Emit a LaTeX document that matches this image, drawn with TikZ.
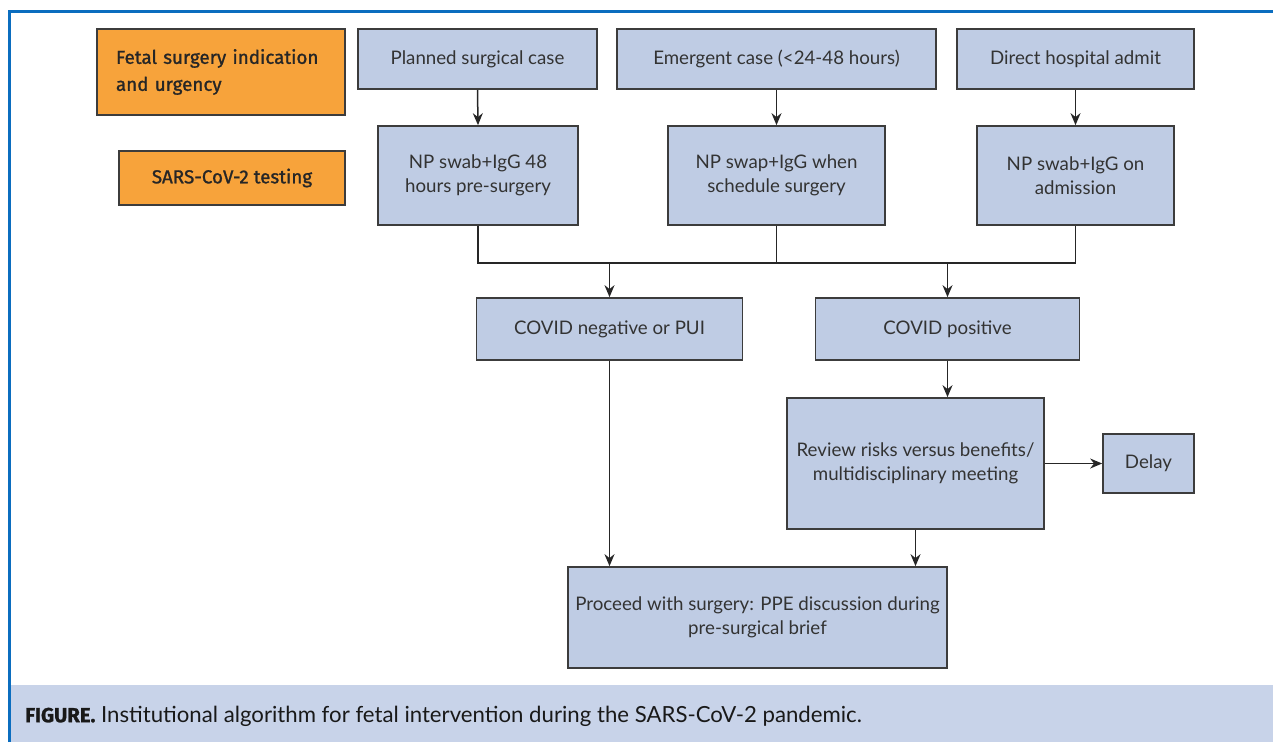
\documentclass[tikz,border=0pt]{standalone}
\usepackage{fontspec}
\setmainfont{Lato}
\newfontfamily\dinfont{Fira Sans}[FakeBold=1.2]
\usetikzlibrary{arrows.meta}
\definecolor{boxfill}{HTML}{BFCCE4}
\definecolor{boxline}{HTML}{3C3C3C}
\definecolor{orangefill}{HTML}{F7A33B}
\definecolor{frameblue}{HTML}{0B6DBF}
\definecolor{capfill}{HTML}{C8D3E9}
\definecolor{txt}{HTML}{333333}
\tikzset{
  flowbox/.style={draw=boxline, line width=1.7pt, fill=boxfill, inner sep=0pt, align=center,
    text=txt, font=\fontsize{18.7}{24}\selectfont},
  orangebox/.style={draw=boxline, line width=1.5pt, fill=orangefill, inner sep=0pt,
    text=black!85, font=\dinfont\fontsize{18.8}{27}\selectfont},
  conn/.style={line width=1.5pt, draw=black!85},
  arr/.style={conn, -{Stealth[length=12pt,width=10pt]}},
}
\begin{document}
\begin{tikzpicture}[x=1pt,y=-1pt]
\useasboundingbox (0,0) rectangle (1273,742);
% caption bar and frame
\fill[capfill] (10,685) rectangle (1273,742);
\draw[frameblue, line width=3.8pt] (9.5,742) -- (9.5,11.5) -- (1273,11.5);
\node[anchor=west, inner sep=0pt, text=black!90] (cap) at (25,716)
  {{\dinfont\bfseries\fontsize{20.3}{24}\selectfont FIGURE.}\fontsize{22.2}{26}\selectfont{} Institutional algorithm for fetal intervention during the SARS-CoV-2 pandemic.};
% left labels
\node[orangebox, minimum width=248pt, minimum height=86pt, align=left, text width=210pt] (o1) at (221,72)
  {Fetal surgery indication\\and urgency};
\node[orangebox, minimum width=226pt, minimum height=54pt, align=center] (o2) at (232,178)
  {SARS-CoV-2 testing};
% top row
\node[flowbox, minimum width=239pt, minimum height=60pt] (planned) at (477.5,59) {Planned surgical case};
\node[flowbox, minimum width=319pt, minimum height=60pt] (emergent) at (776.5,59) {Emergent case (<24-48 hours)};
\node[flowbox, minimum width=237pt, minimum height=60pt] (direct) at (1075.5,59) {Direct hospital admit};
% testing row
\node[flowbox, minimum width=200pt, minimum height=99pt] (np1) at (478,175.5) {NP swab+IgG 48\\hours pre-surgery};
\node[flowbox, minimum width=217pt, minimum height=99pt] (np2) at (776.5,175.5) {NP swap+IgG when\\schedule surgery};
\node[flowbox, minimum width=197pt, minimum height=99pt] (np3) at (1075.5,175.5) {NP swab+IgG on\\admission};
% results
\node[flowbox, minimum width=266pt, minimum height=62pt] (neg) at (609.5,329) {COVID negative or PUI};
\node[flowbox, minimum width=264pt, minimum height=62pt] (pos) at (947.5,329) {COVID positive};
\node[flowbox, minimum width=257pt, minimum height=131pt] (review) at (915.5,463.5) {Review risks versus benefits/\\multidisciplinary meeting};
\node[flowbox, minimum width=91pt, minimum height=59pt] (delay) at (1148.5,463.5) {Delay};
\node[flowbox, minimum width=379pt, minimum height=101pt] (proceed) at (757.5,617.5) {Proceed with surgery: PPE discussion during\\pre-surgical brief};
% connectors
\coordinate (bus) at (0,263);
\draw[arr] (planned.south) -- (np1.north);
\draw[arr] (emergent.south) -- (np2.north);
\draw[arr] (direct.south) -- (np3.north);
\draw[conn] (np1.south) -- (np1.south |- bus) -- (np3.south |- bus) -- (np3.south);
\draw[conn] (np2.south) -- (np2.south |- bus);
\draw[arr] (neg.north |- bus) -- (neg.north);
\draw[arr] (pos.north |- bus) -- (pos.north);
\draw[arr] (pos.south) -- (pos.south |- review.north);
\draw[arr] (review.east |- delay.west) -- (delay.west);
\draw[arr] (review.south) -- (review.south |- proceed.north);
\draw[arr] (neg.south) -- (neg.south |- proceed.north);
\end{tikzpicture}
\end{document}
